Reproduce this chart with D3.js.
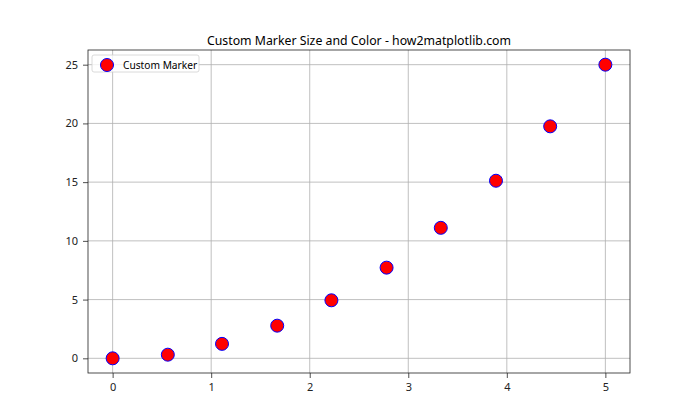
<!DOCTYPE html>
<html>
<head>
<meta charset="utf-8">
<script src="https://cdn.jsdelivr.net/npm/d3@7"></script>
<style>
  body { margin: 0; background: #fff; }
  svg { font-family: "Noto Sans", "DejaVu Sans", sans-serif; }
</style>
</head>
<body>
<svg id="chart"></svg>
<script>
// values
const xValues = [0, 0.56, 1.11, 1.67, 2.22, 2.78, 3.33, 3.89, 4.44, 5];
const yValues = [0, 0.31, 1.23, 2.78, 4.94, 7.72, 11.11, 15.12, 19.75, 25];
const xTicks = [0, 1, 2, 3, 4, 5];
const yTicks = [0, 5, 10, 15, 20, 25];
const chartTitle = "Custom Marker Size and Color - how2matplotlib.com";
const legendLabel = "Custom Marker";

const width = 700, height = 420;
const margin = { top: 50, right: 70, bottom: 47, left: 88 };
const w = width - margin.left - margin.right;
const h = height - margin.top - margin.bottom;

const svg = d3.select("#chart")
    .attr("width", width)
    .attr("height", height);

const g = svg.append("g")
    .attr("transform", `translate(${margin.left},${margin.top})`);

const x = d3.scaleLinear().domain([-0.25, 5.25]).range([0, w]);
const y = d3.scaleLinear().domain([-1.25, 26.25]).range([h, 0]);

// grid
g.selectAll(".vgrid")
    .data(xTicks)
    .enter().append("line")
    .attr("x1", d => x(d)).attr("x2", d => x(d))
    .attr("y1", 0).attr("y2", h)
    .attr("stroke", "#b0b0b0").attr("stroke-width", 0.8);

g.selectAll(".hgrid")
    .data(yTicks)
    .enter().append("line")
    .attr("x1", 0).attr("x2", w)
    .attr("y1", d => y(d)).attr("y2", d => y(d))
    .attr("stroke", "#b0b0b0").attr("stroke-width", 0.8);

// axes
const xAxis = g.append("g")
    .attr("transform", `translate(0,${h})`)
    .call(d3.axisBottom(x).tickValues(xTicks).tickFormat(d3.format("d")).tickSize(5).tickPadding(5));

const yAxis = g.append("g")
    .call(d3.axisLeft(y).tickValues(yTicks).tickFormat(d3.format("d")).tickSize(5).tickPadding(5));

[xAxis, yAxis].forEach(a => {
    a.select(".domain").remove();
    a.selectAll("line").attr("stroke", "#222").attr("stroke-width", 0.8);
    a.selectAll("text").attr("fill", "#222").style("font-size", "11px")
        .style("font-family", "'Noto Sans', 'DejaVu Sans', sans-serif");
});

// frame
g.append("rect")
    .attr("width", w).attr("height", h)
    .attr("fill", "none")
    .attr("stroke", "#222").attr("stroke-width", 0.8);

// points
g.selectAll(".dot")
    .data(xValues.map((d, i) => ({ x: d, y: yValues[i] })))
    .enter().append("circle")
    .attr("class", "dot")
    .attr("cx", d => x(d.x))
    .attr("cy", d => y(d.y))
    .attr("r", 6.5)
    .attr("fill", "red")
    .attr("stroke", "blue")
    .attr("stroke-width", 1);

// title
svg.append("text")
    .attr("x", margin.left + w / 2)
    .attr("y", 45)
    .attr("text-anchor", "middle")
    .style("font-size", "12.3px")
    .attr("fill", "#000")
    .text(chartTitle);

// legend
const lg = g.append("g").attr("transform", "translate(4,5)");
lg.append("rect")
    .attr("width", 107).attr("height", 17)
    .attr("rx", 2)
    .attr("fill", "#fff").attr("fill-opacity", 0.8)
    .attr("stroke", "#d0d0d0").attr("stroke-width", 0.8);
lg.append("circle")
    .attr("cx", 15).attr("cy", 10).attr("r", 6.5)
    .attr("fill", "red").attr("stroke", "blue").attr("stroke-width", 1);
lg.append("text")
    .attr("x", 31).attr("y", 13.5)
    .style("font-size", "10.2px")
    .attr("fill", "#000")
    .text(legendLabel);
</script>
</body>
</html>
